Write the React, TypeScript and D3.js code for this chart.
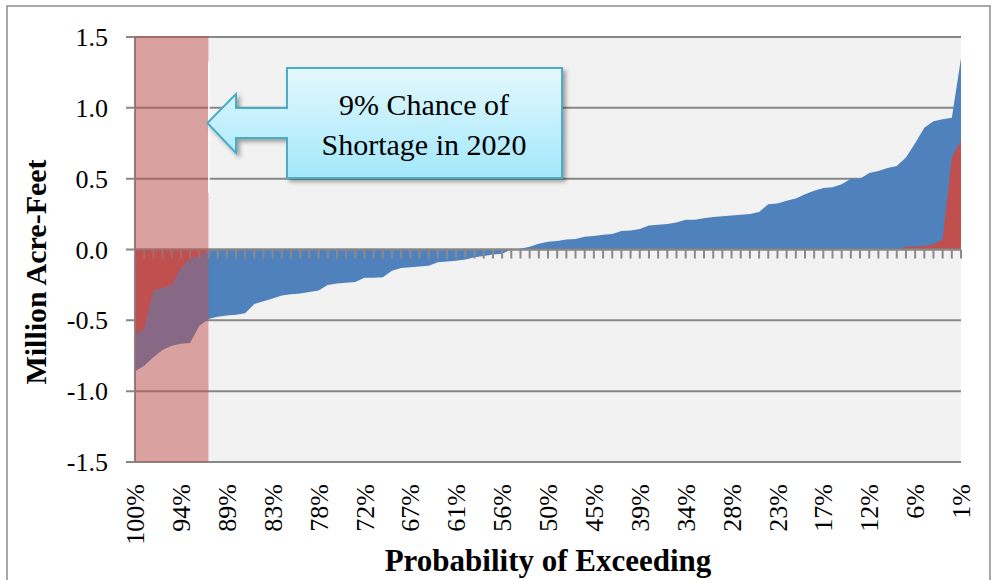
import { useMemo } from 'react';
import * as d3 from 'd3';

// probability labels shown every 5th trace (91 traces in all)
const tickLabels = ['100%', '94%', '89%', '83%', '78%', '72%', '67%', '61%', '56%', '50%', '45%', '39%', '34%', '28%', '23%', '17%', '12%', '6%', '1%'];

// blue series: sorted surplus/deficit, million acre-feet
const blueValues = [
  -0.86, -0.82, -0.76, -0.71, -0.68, -0.665, -0.66, -0.54, -0.49, -0.475,
  -0.465, -0.46, -0.45, -0.385, -0.365, -0.345, -0.325, -0.315, -0.31, -0.3,
  -0.29, -0.25, -0.24, -0.235, -0.23, -0.2, -0.2, -0.195, -0.15, -0.13,
  -0.125, -0.12, -0.115, -0.09, -0.085, -0.08, -0.07, -0.055, -0.045, -0.035,
  -0.03, 0.0, 0.005, 0.02, 0.04, 0.055, 0.06, 0.07, 0.075, 0.09,
  0.095, 0.105, 0.11, 0.13, 0.135, 0.145, 0.17, 0.175, 0.18, 0.19,
  0.21, 0.21, 0.22, 0.23, 0.235, 0.24, 0.245, 0.25, 0.265, 0.32,
  0.325, 0.345, 0.36, 0.39, 0.415, 0.435, 0.44, 0.46, 0.5, 0.5,
  0.54, 0.555, 0.575, 0.59, 0.65, 0.75, 0.86, 0.905, 0.92, 0.93,
  1.35,
];

// red series
const redValues = [
  -0.6, -0.555, -0.29, -0.27, -0.25, -0.13, -0.06, -0.05, 0, 0,
  0, 0, 0, 0, 0, 0, 0, 0, 0, 0,
  0, 0, 0, 0, 0, 0, 0, 0, 0, 0,
  0, 0, 0, 0, 0, 0, 0, 0, 0, 0,
  0, 0, 0, 0, 0, 0, 0, 0, 0, 0,
  0, 0, 0, 0, 0, 0, 0, 0, 0, 0,
  0, 0, 0, 0, 0, 0, 0, 0, 0, 0,
  0, 0, 0, 0, 0, 0, 0, 0, 0, 0,
  0, 0, 0, 0, 0.02, 0.02, 0.025, 0.035, 0.07, 0.65,
  0.77,
];

const yTicks = [1.5, 1.0, 0.5, 0.0, -0.5, -1.0, -1.5];
const shortageEnd = 8; // shaded band covers traces 0..8

const width = 993;
const height = 580;
const margin = { left: 135, right: 32, top: 37, bottom: 118 };
const font = "'Palatino Linotype', 'Book Antiqua', Palatino, 'Liberation Serif', serif";

const App = () => {
  const x = d3.scaleLinear().domain([0, blueValues.length - 1]).range([margin.left, width - margin.right]);
  const y = d3.scaleLinear().domain([-1.5, 1.5]).range([height - margin.bottom, margin.top]);

  const areaGen = useMemo(
    () =>
      d3
        .area<number>()
        .x((_, i) => x(i))
        .y0(y(0))
        .y1((d) => y(d)),
    []
  );

  const y0 = y(0);
  const plotW = x.range()[1] - x.range()[0];
  const plotTop = y(1.5);
  const plotBottom = y(-1.5);

  // callout shape
  const bx0 = 287, bx1 = 562, by0 = 68, by1 = 178;
  const tipX = x(shortageEnd) - 1, tipY = 123;
  const headX = 236;
  const callout = `M${bx0},${by0} L${bx1},${by0} L${bx1},${by1} L${bx0},${by1} L${bx0},138 L${headX},138 L${headX},153 L${tipX},${tipY} L${headX},94 L${headX},108 L${bx0},108 Z`;

  return (
    <svg width={width} height={height} style={{ position: 'absolute', left: 0, top: 0, background: '#fff' }}>
      <defs>
        <linearGradient id="calloutFill" x1="0" y1="0" x2="0" y2="1">
          <stop offset="0" stopColor="#e4f8fd" />
          <stop offset="1" stopColor="#a2e8fb" />
        </linearGradient>
        <filter id="shadow" x="-10%" y="-10%" width="130%" height="140%">
          <feDropShadow dx="3" dy="3" stdDeviation="2" floodColor="#000" floodOpacity="0.35" />
        </filter>
      </defs>

      {/* outer frame */}
      <rect x={7} y={6} width={983} height={600} fill="none" stroke="#8c8c8c" strokeWidth={1.5} />

      {/* plot background */}
      <rect x={margin.left} y={plotTop} width={plotW} height={plotBottom - plotTop} fill="#f2f2f2" />

      {/* gridlines */}
      {yTicks.map((t) => (
        <line key={t} x1={margin.left - 9} x2={x.range()[1]} y1={y(t)} y2={y(t)} stroke="#878787" strokeWidth={2} />
      ))}

      <path d={areaGen(blueValues) || ''} fill="#4f81bd" />
      <path d={areaGen(redValues) || ''} fill="#c0504d" />

      {/* category ticks at zero line */}
      {blueValues.map((_, i) => (
        <line key={i} x1={x(i)} x2={x(i)} y1={y0} y2={y0 + 9} stroke="#8a8a8a" strokeWidth={2} />
      ))}
      <line x1={margin.left} x2={x.range()[1]} y1={y0} y2={y0} stroke="#878787" strokeWidth={2} />

      {/* left axis */}
      <line x1={margin.left} x2={margin.left} y1={plotTop} y2={plotBottom} stroke="#878787" strokeWidth={2} />

      {/* shortage band */}
      <rect x={margin.left} y={plotTop - 1} width={x(shortageEnd) - margin.left} height={plotBottom - plotTop + 1} fill="#c0504d" opacity={0.5} />
      <line x1={x(shortageEnd) + 0.5} x2={x(shortageEnd) + 0.5} y1={62} y2={193} stroke="#fff" strokeWidth={1.5} />

      {/* y tick labels */}
      {yTicks.map((t) => (
        <text key={t} x={108} y={y(t)} dy="0.35em" textAnchor="end" fontFamily={font} fontSize={26} fill="#000">
          {t.toFixed(1)}
        </text>
      ))}

      {/* x tick labels */}
      {tickLabels.map((l, k) => (
        <text
          key={l}
          transform={`translate(${x(k * 5)},${484}) rotate(-90)`}
          dy="0.35em"
          textAnchor="end"
          fontFamily={font}
          fontSize={26}
          fill="#000"
        >
          {l}
        </text>
      ))}

      {/* axis titles */}
      <text transform={`translate(46,${272}) rotate(-90)`} textAnchor="middle" fontFamily={font} fontWeight="bold" fontSize={30} fill="#000">
        Million Acre-Feet
      </text>
      <text x={548} y={571} textAnchor="middle" fontFamily={font} fontWeight="bold" fontSize={31} fill="#000">
        Probability of Exceeding
      </text>

      {/* callout */}
      <path d={callout} fill="url(#calloutFill)" stroke="#4bacc6" strokeWidth={2} filter="url(#shadow)" />
      <text x={424} y={115} textAnchor="middle" fontFamily={font} fontSize={30} fill="#000">
        9% Chance of
      </text>
      <text x={424} y={155} textAnchor="middle" fontFamily={font} fontSize={30} fill="#000">
        Shortage in 2020
      </text>
    </svg>
  );
};

export default App;
